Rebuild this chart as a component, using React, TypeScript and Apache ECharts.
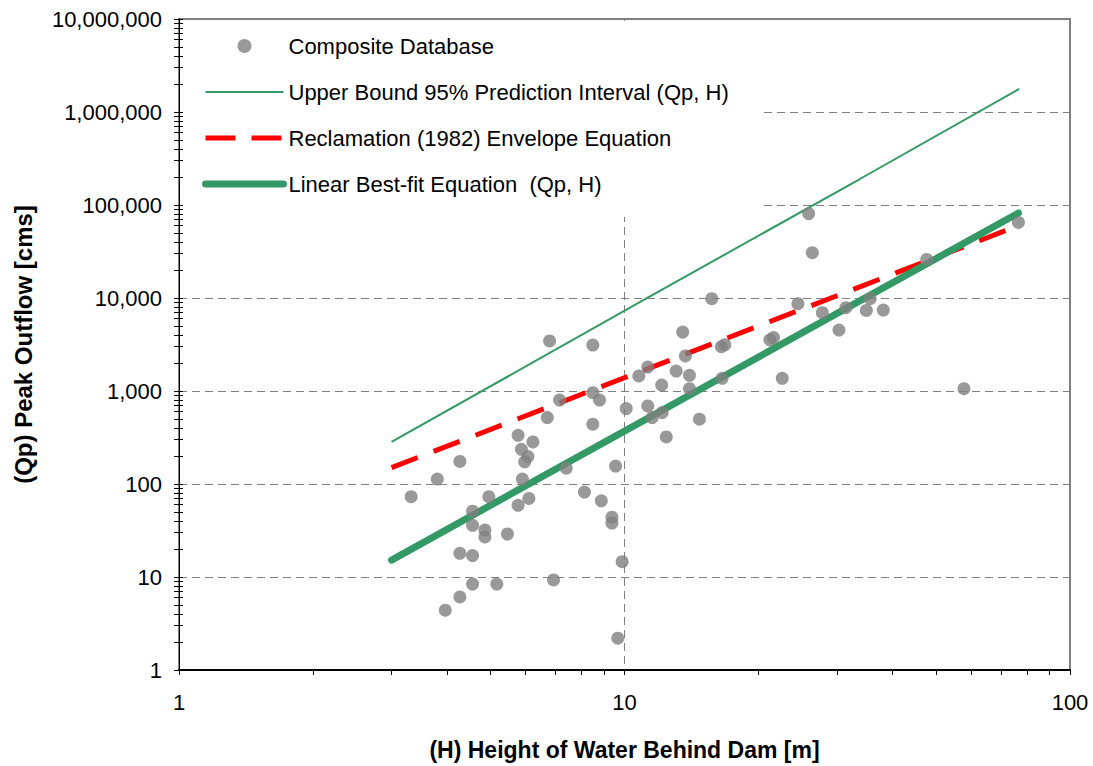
import React, { useEffect, useRef } from "react";
import * as echarts from "echarts";

// Composite database: height of water behind dam H [m] and peak outflow Qp [cms]
const damHeights = [
  3.32, 3.8, 4.27, 3.96, 4.27, 4.27, 4.56, 4.56, 4.56, 4.56, 4.86, 4.86, 4.96, 5.17, 5.46, 5.77,
  6.1, 5.9, 5.77, 6.23, 5.87, 6.07, 5.97, 6.71, 6.79, 6.93, 7.15, 7.4, 8.13, 8.49, 8.49, 8.79,
  8.49, 8.87, 9.37, 9.37, 9.55, 9.66, 9.88, 10.09, 10.77, 11.28, 11.28, 11.54, 12.12, 12.15,
  12.41, 13.06, 13.51, 13.7, 13.99, 13.99, 14.73, 15.7, 16.56, 16.5, 16.8, 21.2, 21.6, 22.6,
  24.5, 25.9, 26.4, 27.8, 30.3, 31.4, 34.9, 35.6, 38.1, 47.7, 57.8, 76.6,
];
const peakOutflows = [
  73, 113, 175, 4.4, 6.1, 18, 51, 36, 17, 8.4, 32, 27, 73, 8.4, 29, 59,
  70, 113, 334, 283, 236, 197, 173, 518, 3450, 9.3, 800, 148, 82, 3120, 960, 800,
  440, 66, 44, 38, 156, 2.2, 14.6, 647, 1450, 1810, 690, 518, 1160, 586,
  321, 1640, 4300, 2380, 1475, 1060, 497, 9830, 1370, 3000, 3150, 3550, 3750, 1370,
  8690, 81000, 30700, 6950, 4520, 7870, 7360, 9830, 7410, 26000, 1060, 65000,
];

// Lines (H, Qp)
const upperBoundH = [3.0, 11.2, 33.6, 76.9];
const upperBoundQ = [283, 9900, 188000, 1770000];
const reclamationH = [3.0, 76.6];
const reclamationQ = [150, 60000];
const bestFitH = [3.0, 76.6];
const bestFitQ = [15.2, 82000];

// Axis tick values
const xMajor = [1, 10, 100];
const yMajor = [1, 10, 100, 1000, 10000, 100000, 1000000, 10000000];
const xTickValues = [1, 2, 3, 4, 5, 6, 7, 8, 9, 10, 20, 30, 40, 50, 60, 70, 80, 90, 100];
const yTickValues: number[] = [];
for (let d = 0; d < 7; d++) {
  for (let k = 1; k < 10; k++) yTickValues.push(k * Math.pow(10, d));
}
yTickValues.push(10000000);

const seriesNames = [
  "Composite Database",
  "Upper Bound 95% Prediction Interval (Qp, H)",
  "Reclamation (1982) Envelope Equation",
  "Linear Best-fit Equation  (Qp, H)",
];

const FONT = "'Liberation Sans', Arial, sans-serif";
const GREEN = "#339966";
const RED = "#ff0000";

const zip = (a: number[], b: number[]) => a.map((v, i) => [v, b[i]]);

export default function App() {
  const ref = useRef<HTMLDivElement>(null);
  useEffect(() => {
    if (!ref.current) return;
    const chart = echarts.init(ref.current, undefined, { renderer: "svg" });
    const grid = { left: 179, top: 19, width: 891, height: 652 };
    const baseX = {
      type: "log",
      logBase: 10,
      min: 1,
      max: 100,
      gridIndex: 0,
      position: "bottom",
    };
    const baseY = {
      type: "log",
      logBase: 10,
      min: 1,
      max: 10000000,
      gridIndex: 0,
      position: "left",
    };
    const hiddenSymbol = { opacity: 0, borderWidth: 0 };
    chart.setOption({
      animation: false,
      backgroundColor: "#fff",
      grid: { ...grid, show: true, borderColor: "#808080", borderWidth: 2, backgroundColor: "transparent" },
      legend: {
        orient: "vertical",
        left: 183,
        top: 21,
        padding: [14, 34, 22, 19],
        itemGap: 24,
        itemWidth: 78,
        itemHeight: 14,
        backgroundColor: "#fff",
        textStyle: { fontSize: 22, fontFamily: FONT, color: "#000" },
        data: [
          { name: seriesNames[0], icon: "circle", itemStyle: { color: "#808080" } },
          {
            name: seriesNames[1],
            lineStyle: { color: GREEN, width: 2, type: "solid" },
            itemStyle: hiddenSymbol,
          },
          {
            name: seriesNames[2],
            lineStyle: { color: RED, width: 5, type: [30, 16] },
            itemStyle: hiddenSymbol,
          },
          {
            name: seriesNames[3],
            lineStyle: { color: GREEN, width: 7, type: "solid", cap: "round" },
            itemStyle: hiddenSymbol,
          },
        ],
      },
      xAxis: [
        {
          ...baseX,
          name: "(H) Height of Water Behind Dam [m]",
          nameLocation: "middle",
          nameGap: 68,
          nameTextStyle: { fontSize: 23, fontWeight: "bold", fontFamily: FONT, color: "#000" },
          axisLine: { show: true, onZero: false, lineStyle: { color: "#000", width: 2 } },
          axisTick: { show: false },
          axisLabel: {
            show: true,
            margin: 21,
            fontSize: 22,
            fontFamily: FONT,
            color: "#000",
            customValues: xMajor,
            formatter: (v: number) => String(Math.round(v)),
          },
          splitLine: { show: true, lineStyle: { color: "#808080", type: [8, 5], width: 1 } },
        },
        {
          ...baseX,
          axisLine: { show: false, onZero: false },
          axisTick: { show: true, inside: false, length: 5, customValues: xTickValues, lineStyle: { color: "#000", width: 1 } },
          axisLabel: { show: false },
          splitLine: { show: false },
        },
      ],
      yAxis: [
        {
          ...baseY,
          name: "(Qp) Peak Outflow [cms]",
          nameLocation: "middle",
          nameGap: 144,
          nameTextStyle: { fontSize: 24, fontWeight: "bold", fontFamily: FONT, color: "#000" },
          axisLine: { show: true, onZero: false, lineStyle: { color: "#000", width: 1 } },
          axisTick: { show: false },
          axisLabel: {
            show: true,
            margin: 17,
            fontSize: 22,
            fontFamily: FONT,
            color: "#000",
            customValues: yMajor,
            formatter: (v: number) => Math.round(v).toLocaleString("en-US"),
          },
          splitLine: { show: true, lineStyle: { color: "#808080", type: [8, 5], width: 1 } },
        },
        {
          ...baseY,
          axisLine: { show: false, onZero: false },
          axisTick: { show: true, inside: false, length: 5, customValues: yTickValues, lineStyle: { color: "#000", width: 1 } },
          axisLabel: { show: false },
          splitLine: { show: false },
        },
        {
          ...baseY,
          axisLine: { show: false, onZero: false },
          axisTick: { show: true, inside: true, length: 4, customValues: yTickValues, lineStyle: { color: "#000", width: 1 } },
          axisLabel: { show: false },
          splitLine: { show: false },
        },
      ],
      series: [
        {
          name: seriesNames[0],
          type: "scatter",
          xAxisIndex: 0,
          yAxisIndex: 0,
          z: 5,
          symbol: "circle",
          symbolSize: 13,
          itemStyle: { color: "#808080" },
          data: zip(damHeights, peakOutflows),
        },
        {
          name: seriesNames[1],
          type: "line",
          xAxisIndex: 0,
          yAxisIndex: 0,
          symbol: "none",
          lineStyle: { color: GREEN, width: 2 },
          itemStyle: { color: GREEN },
          data: zip(upperBoundH, upperBoundQ),
        },
        {
          name: seriesNames[2],
          type: "line",
          xAxisIndex: 0,
          yAxisIndex: 0,
          symbol: "none",
          lineStyle: { color: RED, width: 5, type: [28, 17] },
          itemStyle: { color: RED },
          data: zip(reclamationH, reclamationQ),
        },
        {
          name: seriesNames[3],
          type: "line",
          xAxisIndex: 0,
          yAxisIndex: 0,
          symbol: "none",
          lineStyle: { color: GREEN, width: 7, cap: "round" },
          itemStyle: { color: GREEN },
          data: zip(bestFitH, bestFitQ),
        },
      ],
    });
    return () => chart.dispose();
  }, []);
  return (
    <div
      ref={ref}
      style={{ position: "absolute", left: 0, top: 0, width: 1093, height: 766, background: "#fff" }}
    />
  );
}
